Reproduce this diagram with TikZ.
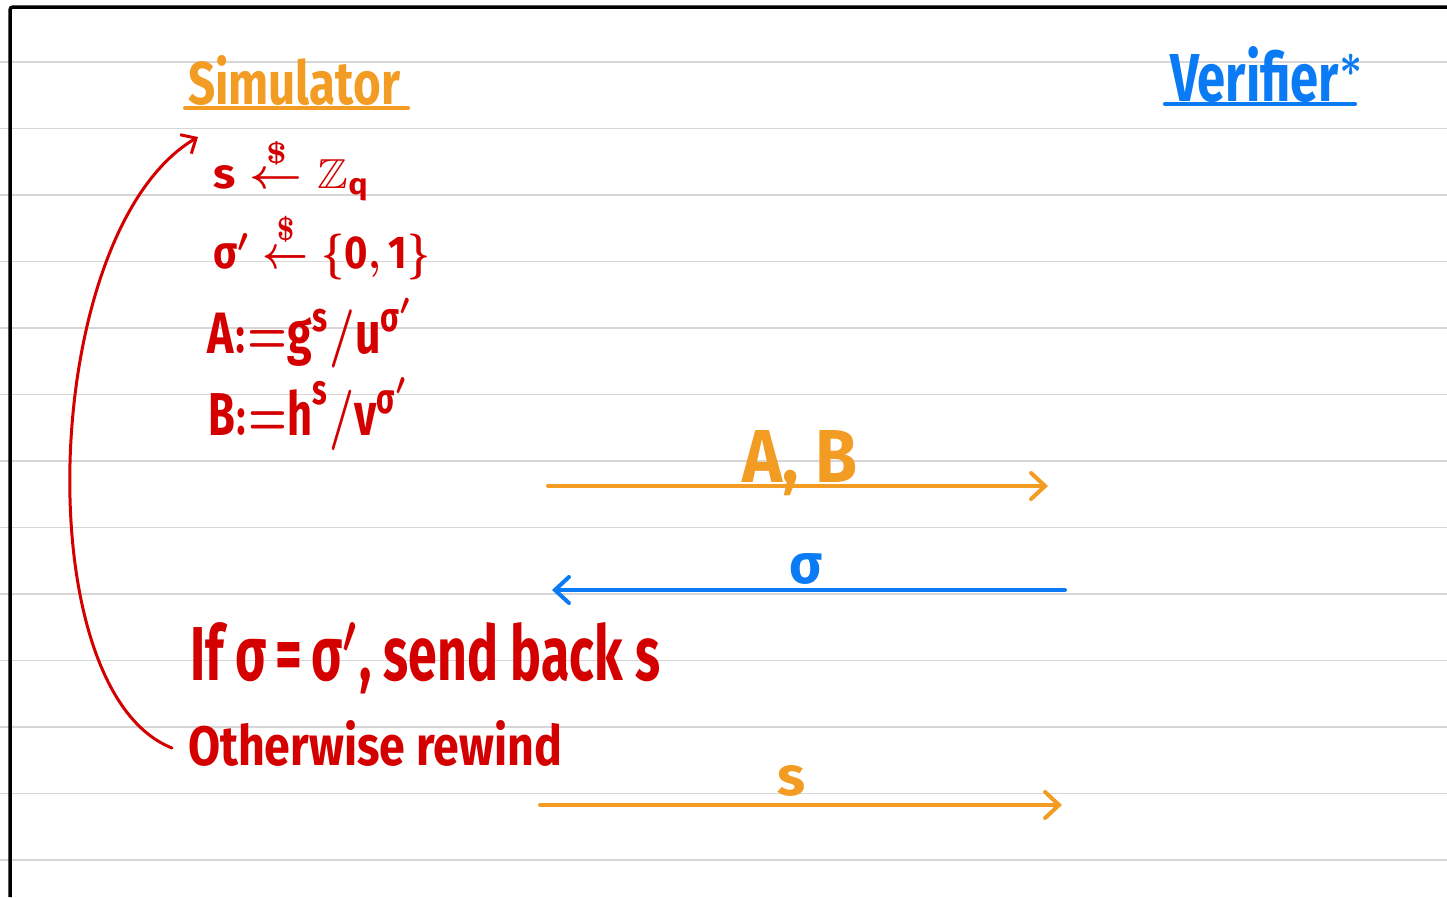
\documentclass[tikz,border=0pt]{standalone}
\usepackage{fontspec}
\setmainfont{Fira Sans}
\usepackage{amsmath,amssymb,graphicx}
\usetikzlibrary{arrows.meta}
\definecolor{sorange}{RGB}{243,156,36}
\definecolor{sred}{RGB}{212,0,0}
\definecolor{sblue}{RGB}{10,122,245}
\newcommand\fitbox[3]{\resizebox{#1pt}{#2pt}{\fontseries{sb}\selectfont\boldmath #3}}
\newcommand\tx[1]{\text{#1}}
\tikzset{
  rule/.style={draw=black!16,line width=1.3pt},
  border/.style={draw=black,line width=3.5pt,rounded corners=3pt},
  txt/.style={inner sep=0pt,outer sep=0pt,anchor=base west},
  ctxt/.style={inner sep=0pt,outer sep=0pt,anchor=base},
  msg/.style={line width=4pt,line cap=round,-{Straight Barb[length=14pt,width=26pt,line width=4pt,line cap=round]}},
  ul/.style={line width=4pt,line cap=round},
}
\begin{document}
\begin{tikzpicture}[x=1pt,y=-1pt]
\useasboundingbox (0,0) rectangle (1447,897);
\fill[white] (0,0) rectangle (1447,897);
% ruled lines
\foreach \k in {0,...,12}{
  \draw[rule] (0,62+66.5*\k) -- (1447,62+66.5*\k);
}
% border
\draw[border] (10,897) -- (10,7) -- (1447,7);
% headings
\node[txt,text=sorange] (sim) at (188,104) {\fitbox{212}{49}{Simulator}};
\draw[ul,sorange] (185,108) coordinate (simA) -- (408,108) coordinate (simB);
\node[txt,text=sblue] (ver) at (1170,101) {\fitbox{195}{55}{Verifier$^{*}$}};
\draw[ul,sblue] (1165,104) coordinate (verA) -- (1355,104) coordinate (verB);
% simulator computations
\node[txt,text=sred] (l1) at (213,188) {\fitbox{157}{51}{$\tx{s}\overset{\$}{\leftarrow}\mathbb{Z}_{\tx{q}}$}};
\node[txt,text=sred] (l2) at (213,268) {\fitbox{217}{56}{$\tx{σ}'\overset{\$}{\leftarrow}\{\tx{0},\tx{1}\}$}};
\node[txt,text=sred] (l3) at (207,353) {\fitbox{208}{55}{$\tx{A}{:=}\tx{g}^{\tx{s}}/\tx{u}^{\tx{σ}'}$}};
\node[txt,text=sred] (l4) at (208,435) {\fitbox{202}{57}{$\tx{B}{:=}\tx{h}^{\tx{s}}/\tx{v}^{\tx{σ}'}$}};
\node[txt,text=sred] (l5) at (190,680) {\fitbox{470}{58}{If σ\,=\,σ$'$, send back s}};
\node[txt,text=sred] (l6) at (188,765) {\fitbox{374}{45}{Otherwise rewind}};
% rewind arrow
\coordinate (rwS) at (172,748);
\coordinate (rwE) at (198,137);
\draw[sred,line width=3pt,line cap=round,-{Straight Barb[length=12pt,width=22pt,line width=3pt]}]
  (rwS) .. controls (25,690) and (40,230) .. (rwE);
% messages
\coordinate (ab1) at (548,486); \coordinate (ab2) at (1048,486);
\coordinate (sg1) at (1065,590); \coordinate (sg2) at (552,590);
\coordinate (s1) at (540,805); \coordinate (s2) at (1062,805);
\draw[msg,sorange] (ab1) -- (ab2);
\draw[msg,sblue] (sg1) -- (sg2);
\draw[msg,sorange] (s1) -- (s2);
\node[txt,text=sorange] (abl) at (742,482) {\fitbox{115}{52}{A, B}};
\node[ctxt,text=sblue] (sgl) at (806,583) {\fitbox{33}{30}{σ}};
\node[ctxt,text=sorange] (sl) at (791,795) {\fitbox{28}{30}{s}};
\end{tikzpicture}
\end{document}
